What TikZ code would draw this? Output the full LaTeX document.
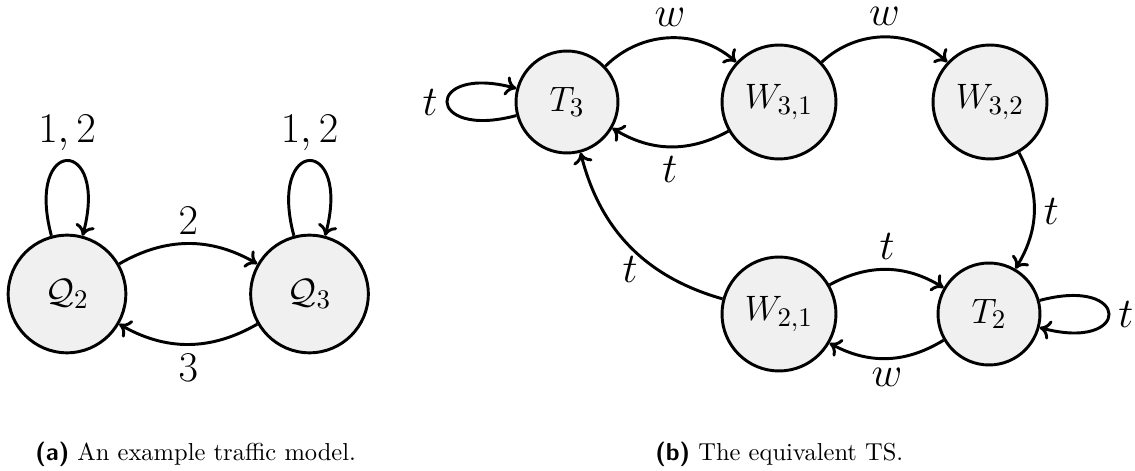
\documentclass[tikz,border=0pt]{standalone}
\usepackage{fontspec}
\usetikzlibrary{arrows.meta}
\begin{document}
\begin{tikzpicture}[x=0.408pt,y=0.408pt,
  state/.style={circle,draw,line width=1.2pt,fill=black!6,inner sep=0pt,font=\fontsize{15.5}{18}\selectfont},
  tnode/.style={state,minimum size=41.6pt},
  wnode/.style={state,minimum size=46.5pt},
  qnode/.style={state,minimum size=48pt},
  edge/.style={line width=1.2pt,-{To[length=4.5pt,width=8pt]}},
  lbl/.style={font=\fontsize{16}{19}\selectfont},
  toplbl/.style={lbl,inner sep=0pt,above=4.2pt},
  capt/.style={anchor=base west,inner sep=0pt,font=\fontsize{10}{12}\selectfont}
]
\useasboundingbox (0,0) rectangle (1135,-471);

% (a)
\node[qnode] (q2) at (67,-294) {$\mathcal{Q}_2$};
\node[qnode] (q3) at (309.5,-294) {$\mathcal{Q}_3$};
\draw[edge] (q2) to[loop,out=105,in=75,looseness=8.5] node[lbl,above] {$1,2$} (q2);
\draw[edge] (q3) to[loop,out=105,in=75,looseness=8.5] node[lbl,above] {$1,2$} (q3);
\draw[edge] (q2) to[bend left=30] node[lbl,above] {$2$} (q3);
\draw[edge] (q3) to[bend left=30] node[lbl,below] {$3$} (q2);

% (b)
\node[tnode] (t3) at (567,-102) {$T_3$};
\node[wnode] (w31) at (779,-102) {$W_{3,1}$};
\node[wnode] (w32) at (990,-102) {$W_{3,2}$};
\node[wnode] (w21) at (779,-314) {$W_{2,1}$};
\node[tnode] (t2) at (989,-314) {$T_2$};

\draw[edge] (t3) to[loop,out=195,in=165,looseness=9] node[lbl,left] {$t$} (t3);
\draw[edge] (t2) to[loop,out=15,in=-15,looseness=9] node[lbl,right] {$t$} (t2);
\draw[edge] (t3) to[bend left=43] node[toplbl] {$w$} (w31);
\draw[edge] (w31) to[bend left=30] node[lbl,below] {$t$} (t3);
\draw[edge] (w31) to[bend left=43] node[toplbl] {$w$} (w32);
\draw[edge] (w32) to[bend left=30] node[lbl,right] {$t$} (t2);
\draw[edge] (w21) to[bend left=30] node[lbl,above] {$t$} (t2);
\draw[edge] (t2) to[bend left=30] node[lbl,below] {$w$} (w21);
\draw[edge] (w21) to[bend left=30] node[lbl,below] {$t$} (t3);

% captions
\node[capt] (capa) at (35,-461) {{\sffamily\bfseries (a)} An example traffic model.};
\node[capt] (capb) at (655,-461) {{\sffamily\bfseries (b)} The equivalent TS.};
\end{tikzpicture}
\end{document}
